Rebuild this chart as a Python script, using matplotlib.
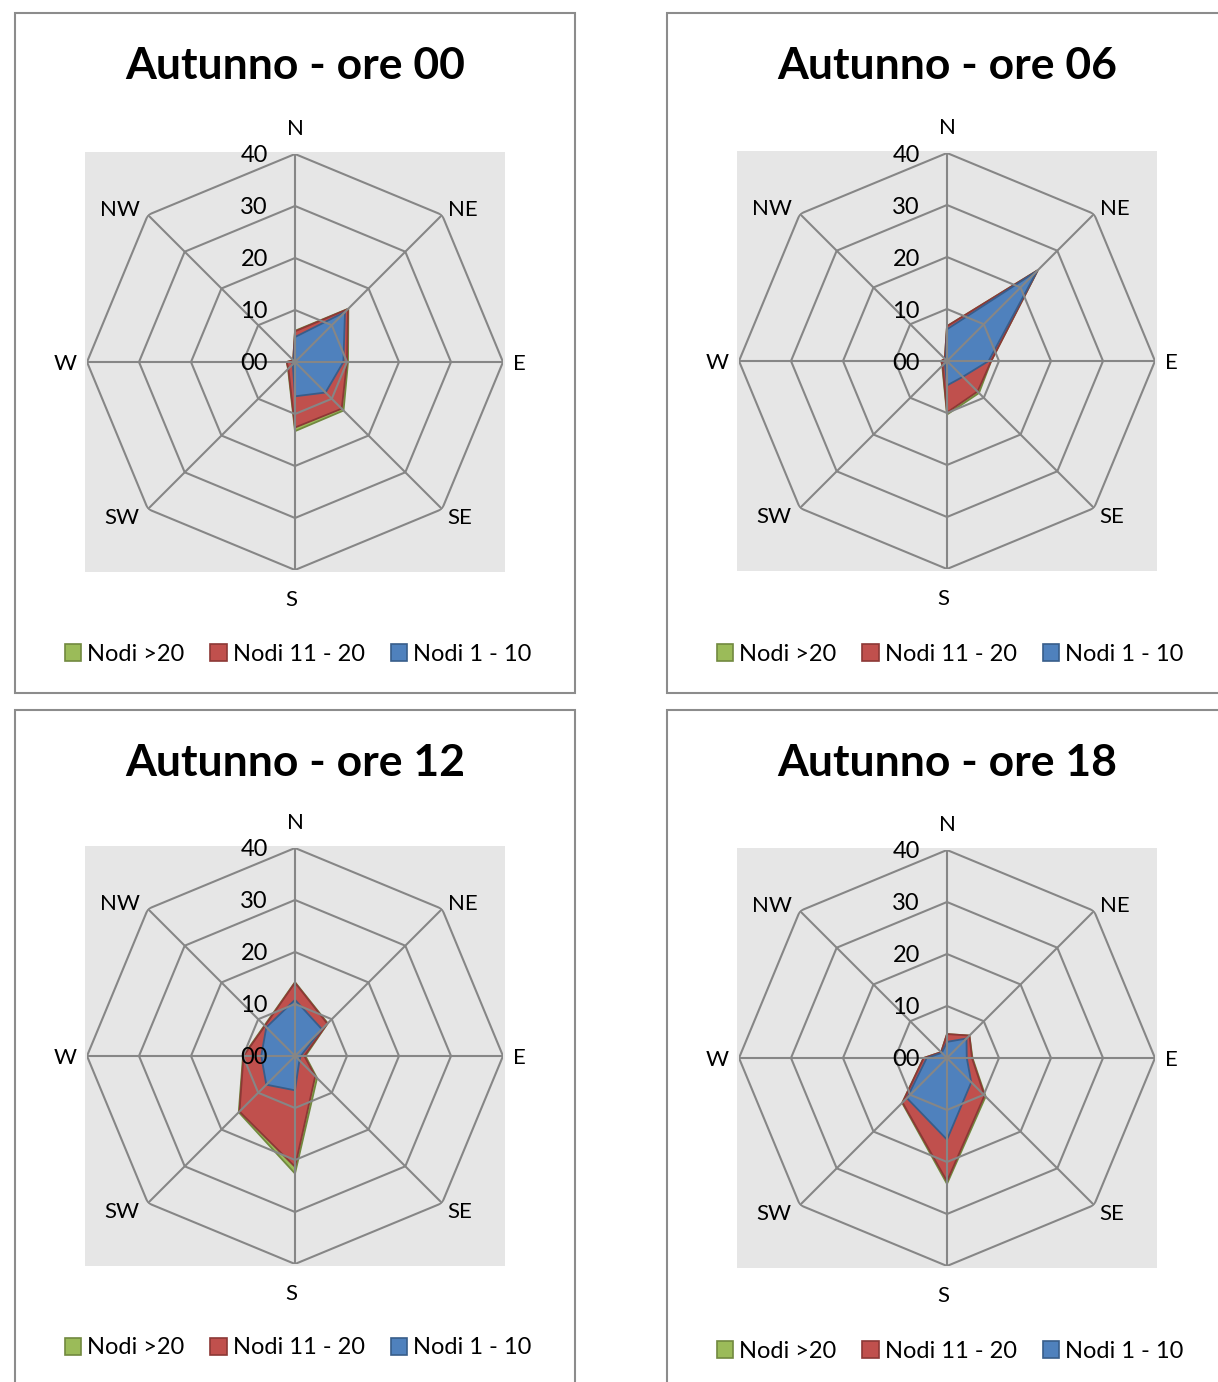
import numpy as np
import matplotlib.pyplot as plt
from matplotlib.patches import Rectangle

plt.rcParams['font.family'] = ['Lato', 'DejaVu Sans']

directions = ['N', 'NE', 'E', 'SE', 'S', 'SW', 'W', 'NW']
series_names = ['Nodi >20', 'Nodi 11 - 20', 'Nodi 1 - 10']
titles = ['Autunno - ore 00', 'Autunno - ore 06', 'Autunno - ore 12', 'Autunno - ore 18']
r_ticks = [0, 10, 20, 30, 40]
r_ticklabels = ['00', '10', '20', '30', '40']

# frequenze per classe di velocita' (valori per fascia, poi impilati)
nodi_1_10 = [
    [4.8, 13.6, 9.3, 8.3, 6.6, 0.6, 0.6, 0.3],
    [6.1, 24.5, 8.0, 4.3, 4.7, 0.6, 0.6, 0.3],
    [10.8, 7.3, 1.1, 1.2, 6.6, 7.8, 6.5, 7.8],
    [3.1, 5.3, 3.8, 6.6, 15.7, 10.9, 3.9, 1.4],
]
nodi_11_20 = [
    [1.1, 0.8, 0.7, 4.4, 6.0, 1.2, 1.0, 0.2],
    [0.6, 0.2, 0.5, 4.0, 5.2, 0.6, 0.5, 0.3],
    [3.3, 1.5, 0.7, 4.3, 14.7, 7.3, 3.4, 0.4],
    [1.5, 0.8, 1.0, 3.6, 8.0, 1.2, 0.6, 0.2],
]
nodi_oltre_20 = [
    [0.1, 0.1, 0.2, 0.5, 0.7, 0.1, 0.0, 0.0],
    [0.0, 0.0, 0.0, 0.4, 0.4, 0.1, 0.0, 0.0],
    [0.1, 0.1, 0.2, 0.5, 1.3, 0.2, 0.1, 0.1],
    [0.0, 0.0, 0.1, 0.3, 0.5, 0.1, 0.0, 0.0],
]

fill_colors = ['#9BBB59', '#C0504D', '#4F81BD']
edge_colors = ['#71893F', '#8C3836', '#385D8A']
grid_color = '#868686'

W, H = 1218, 1382
fig = plt.figure(figsize=(W / 100, H / 100), dpi=100)

# posizioni in pixel (dall'alto): centro radar, box del pannello, titolo, legenda
centers = [(295, 362), (947, 361), (295, 1056), (947, 1058)]
boxes = [(15, 13, 560, 680), (667, 13, 560, 680), (15, 710, 560, 680), (667, 710, 560, 680)]
title_y = [66, 66, 763, 763]
legend_y = [654, 654, 1348, 1351]
radius = 208

label_offsets = {
    'N': (0, 25), 'NE': (21, 5), 'E': (16, -2), 'SE': (18, -9),
    'S': (-4, -30), 'SW': (-26, -9), 'W': (-22, -2), 'NW': (-28, 5),
}

angles = np.arange(len(directions)) * 2 * np.pi / len(directions)
closed = np.append(angles, angles[0])


def fx(px):
    return px / W


def fy(py):
    return 1 - py / H


for i in range(4):
    cx, cy = centers[i]
    bx, by, bw, bh = boxes[i]

    # cornice del grafico
    fig.patches.append(Rectangle((fx(bx), fy(by + bh)), bw / W, bh / H, transform=fig.transFigure,
                                 facecolor='white', edgecolor='#8C8C8C', linewidth=1.5, zorder=0))
    # area del tracciato grigia
    fig.patches.append(Rectangle((fx(cx - 210), fy(cy + 210)), 420 / W, 420 / H, transform=fig.transFigure,
                                 facecolor='#E6E6E6', edgecolor='none', zorder=0.5))

    ax = fig.add_axes([fx(cx - radius), fy(cy + radius), 2 * radius / W, 2 * radius / H], projection='polar')
    ax.set_zorder(2)
    ax.set_facecolor('none')
    ax.set_theta_zero_location('N')
    ax.set_theta_direction(-1)
    ax.set_ylim(0, 40)
    ax.grid(False)
    ax.spines['polar'].set_visible(False)
    ax.set_xticks([])
    ax.set_yticks([])

    # aree impilate
    blue = np.array(nodi_1_10[i])
    red = blue + np.array(nodi_11_20[i])
    green = red + np.array(nodi_oltre_20[i])
    for vals, fc, ec, z in zip([green, red, blue], fill_colors, edge_colors, [2, 3, 4]):
        v = np.append(vals, vals[0])
        ax.fill(closed, v, facecolor=fc, edgecolor=ec, linewidth=1.3, zorder=z)

    # griglia ottagonale e raggi, sopra le aree
    for r in r_ticks[1:]:
        ax.plot(closed, [r] * len(closed), color=grid_color, lw=1.5, zorder=5)
    for a in angles:
        ax.plot([a, a], [0, 40], color=grid_color, lw=1.5, zorder=5)

    for a, d in zip(angles, directions):
        ax.annotate(d, xy=(a, 40), xytext=label_offsets[d], textcoords='offset pixels',
                    ha='center', va='center', fontsize=16, annotation_clip=False)
    for r, lab in zip(r_ticks, r_ticklabels):
        ax.annotate(lab, xy=(0, r), xytext=(-27, -2), textcoords='offset pixels',
                    ha='right', va='center', fontsize=17, annotation_clip=False, zorder=6)

    fig.text(fx(cx), fy(title_y[i]), titles[i], ha='center', va='center',
             fontsize=32, fontweight='bold')

    handles = [Rectangle((0, 0), 1, 1, facecolor=fc, edgecolor=ec, linewidth=1.2)
               for fc, ec in zip(fill_colors, edge_colors)]
    fig.legend(handles, series_names, loc='center', bbox_to_anchor=(fx(cx + 3), fy(legend_y[i])),
               ncol=3, frameon=False, fontsize=17, handlelength=0.7, handleheight=0.7,
               handletextpad=0.25, columnspacing=1.1)

fig.savefig('out.png', dpi=100)
